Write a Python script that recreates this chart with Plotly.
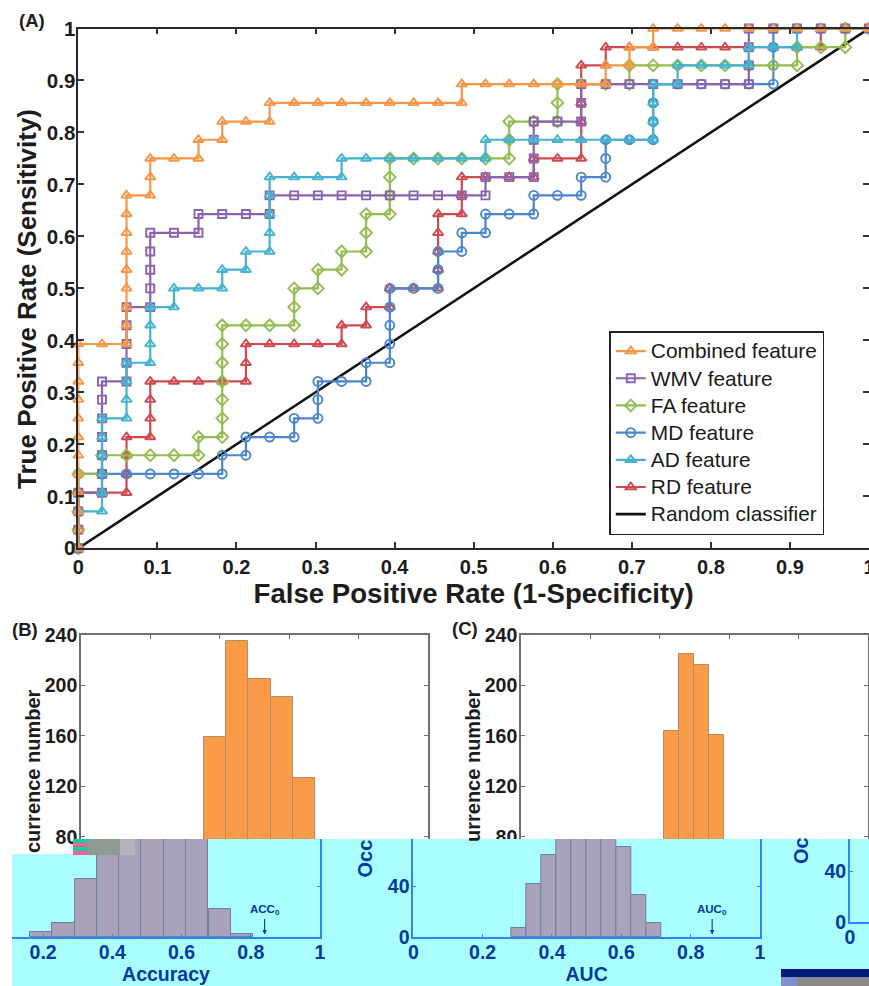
import plotly.graph_objects as go

W, H = 869, 986

# ---------- Panel A data (false positive rate, true positive rate) ----------
combined = [(0,0),(0,.036),(0,.071),(0,.107),(0,.143),(0,.179),(0,.214),(0,.25),(0,.286),(0,.321),(0,.357),(0,.393),
            (.03,.393),(.061,.393),(.061,.429),(.061,.464),(.061,.5),(.061,.536),(.061,.571),(.061,.607),(.061,.643),(.061,.679),
            (.091,.679),(.091,.714),(.091,.75),(.121,.75),(.152,.75),(.152,.786),(.182,.786),(.182,.821),(.212,.821),(.242,.821),(.242,.857),
            (.273,.857),(.303,.857),(.333,.857),(.364,.857),(.394,.857),(.424,.857),(.455,.857),(.485,.857),(.485,.893),
            (.515,.893),(.545,.893),(.576,.893),(.606,.893),(.636,.893),(.667,.893),(.667,.929),(.697,.929),(.697,.964),(.727,.964),(.727,1),
            (.758,1),(.788,1),(.818,1),(.848,1),(.879,1),(.909,1),(.939,1),(.97,1),(1,1)]
wmv = [(0,0),(0,.036),(0,.071),(0,.107),(.03,.107),(.03,.143),(.03,.179),(.03,.214),(.03,.25),(.03,.286),(.03,.321),
       (.061,.321),(.061,.357),(.061,.393),(.061,.429),(.061,.464),(.091,.464),(.091,.5),(.091,.536),(.091,.571),(.091,.607),
       (.121,.607),(.152,.607),(.152,.643),(.182,.643),(.212,.643),(.242,.643),(.242,.679),(.273,.679),(.303,.679),(.333,.679),(.364,.679),
       (.394,.679),(.424,.679),(.455,.679),(.485,.679),(.515,.679),(.515,.714),(.545,.714),(.576,.714),(.576,.75),(.576,.786),(.576,.821),
       (.606,.821),(.636,.821),(.636,.857),(.636,.893),(.667,.893),(.697,.893),(.727,.893),(.758,.893),(.788,.893),(.818,.893),(.848,.893),
       (.848,.929),(.848,.964),(.848,1),(.879,1),(.909,1),(.939,1),(.97,1),(1,1)]
fa = [(0,0),(0,.036),(0,.071),(0,.107),(0,.143),(.03,.143),(.03,.179),(.061,.179),(.091,.179),(.121,.179),(.152,.179),(.152,.214),(.182,.214),
      (.182,.25),(.182,.286),(.182,.321),(.182,.357),(.182,.393),(.182,.429),(.212,.429),(.242,.429),(.273,.429),(.273,.464),(.273,.5),
      (.303,.5),(.303,.536),(.333,.536),(.333,.571),(.364,.571),(.364,.607),(.364,.643),(.394,.643),(.394,.679),(.394,.714),(.394,.75),
      (.424,.75),(.455,.75),(.485,.75),(.515,.75),(.545,.75),(.545,.786),(.545,.821),(.576,.821),(.606,.821),(.606,.857),(.606,.893),
      (.636,.893),(.667,.893),(.697,.893),(.697,.929),(.727,.929),(.758,.929),(.788,.929),(.818,.929),(.848,.929),(.879,.929),(.909,.929),
      (.909,.964),(.939,.964),(.97,.964),(.97,1),(1,1)]
md = [(0,0),(0,.036),(0,.071),(0,.107),(0,.143),(.03,.143),(.061,.143),(.091,.143),(.121,.143),(.152,.143),(.182,.143),(.182,.179),(.212,.179),
      (.212,.214),(.242,.214),(.273,.214),(.273,.25),(.303,.25),(.303,.286),(.303,.321),(.333,.321),(.364,.321),(.364,.357),(.394,.357),
      (.394,.393),(.394,.429),(.394,.464),(.394,.5),(.424,.5),(.455,.5),(.455,.536),(.455,.571),(.485,.571),(.485,.607),(.515,.607),(.515,.643),
      (.545,.643),(.576,.643),(.576,.679),(.606,.679),(.636,.679),(.636,.714),(.667,.714),(.667,.75),(.667,.786),(.697,.786),(.727,.786),
      (.727,.821),(.727,.857),(.727,.893),(.758,.893),(.788,.893),(.818,.893),(.848,.893),(.879,.893),(.879,.929),(.879,.964),(.879,1),
      (.909,1),(.939,1),(.97,1),(1,1)]
ad = [(0,0),(0,.036),(0,.071),(.03,.071),(.03,.107),(.03,.143),(.03,.179),(.03,.214),(.03,.25),(.061,.25),(.061,.286),(.061,.321),(.061,.357),
      (.091,.357),(.091,.393),(.091,.429),(.091,.464),(.121,.464),(.121,.5),(.152,.5),(.182,.5),(.182,.536),(.212,.536),(.212,.571),(.242,.571),
      (.242,.607),(.242,.643),(.242,.679),(.242,.714),(.273,.714),(.303,.714),(.333,.714),(.333,.75),(.364,.75),(.394,.75),(.424,.75),(.455,.75),
      (.485,.75),(.515,.75),(.515,.786),(.545,.786),(.576,.786),(.606,.786),(.636,.786),(.667,.786),(.697,.786),(.727,.786),(.727,.821),(.727,.857),
      (.727,.893),(.758,.893),(.758,.929),(.788,.929),(.818,.929),(.848,.929),(.848,.964),(.879,.964),(.909,.964),(.909,1),(.939,1),(.97,1),(1,1)]
rd = [(0,0),(0,.036),(0,.071),(0,.107),(.03,.107),(.061,.107),(.061,.143),(.061,.179),(.061,.214),(.091,.214),(.091,.25),(.091,.286),(.091,.321),
      (.121,.321),(.152,.321),(.182,.321),(.212,.321),(.212,.357),(.212,.393),(.242,.393),(.273,.393),(.303,.393),(.333,.393),(.333,.429),(.364,.429),
      (.364,.464),(.394,.464),(.394,.5),(.424,.5),(.455,.5),(.455,.536),(.455,.571),(.455,.607),(.455,.643),(.485,.643),(.485,.679),(.485,.714),
      (.515,.714),(.545,.714),(.576,.714),(.576,.75),(.606,.75),(.636,.75),(.636,.786),(.636,.821),(.636,.857),(.636,.893),(.636,.929),(.667,.929),
      (.667,.964),(.697,.964),(.727,.964),(.758,.964),(.788,.964),(.818,.964),(.848,.964),(.879,.964),(.909,.964),(.939,.964),(.939,1),(.97,1),(1,1)]
random_x = [0, 1]
random_y = [0, 1]

# ---------- Panels B and C histograms ----------
acc_real_x = [.386, .45, .514, .579, .643]
acc_real_n = [159, 235, 205, 191, 127]
auc_real_x = [.434, .477, .52, .563]
auc_real_n = [164, 225, 216, 161]
acc_null_x = [.194, .259, .323, .388, .452, .516, .581, .645, .71, .774]
acc_null_n = [4, 11, 46, 104, 150, 180, 150, 110, 22, 2]
auc_null_x = [.305, .348, .391, .434, .477, .52, .563, .607, .65, .693]
auc_null_n = [7, 42, 65, 90, 110, 110, 90, 71, 33, 11]

FONT = "Liberation Sans"
INK = "#1c1c1c"
NAVY = "#003a9e"
LINE_BLUE = "#2b87ee"
BAND = "#abfeff"

def dom_x(a, b): return [a / W, b / W]
def dom_y(top, bottom): return [1 - bottom / H, 1 - top / H]
def tf(size, color=INK): return dict(family=FONT, size=size, color=color, weight="bold")
def legend_name(text): return f"<span style='font-size:20.9px'>{text}</span>"

fig = go.Figure()

fig.add_trace(go.Scatter(x=random_x, y=random_y, mode="lines", name=legend_name("Random classifier"), legendrank=7,
                         line=dict(color="#111111", width=2.6), cliponaxis=False))

styles = [
    (rd, "RD feature", "#cf4a50", "triangle-up-open", 6, 9),
    (md, "MD feature", "#4a86cb", "circle-open", 4, 9),
    (fa, "FA feature", "#92bd4f", "diamond-open", 3, 9),
    (wmv, "WMV feature", "#8a63ae", "square-open", 2, 8),
    (ad, "AD feature", "#44b3ce", "triangle-up-open", 5, 9),
    (combined, "Combined feature", "#f79646", "triangle-up-open", 1, 9),
]
for pts, name, col, sym, rank, size in styles:
    fig.add_trace(go.Scatter(x=[p[0] for p in pts], y=[p[1] for p in pts], mode="lines+markers", name=legend_name(name),
                             legendrank=rank, cliponaxis=False, line=dict(color=col, width=2.2),
                             marker=dict(symbol=sym, size=size, color=col, line=dict(color=col, width=1.9))))

# band behind the lower (shifted) part of the picture
fig.add_trace(go.Scatter(x=[12, 135, 135, 869, 869, 12, 12], y=[854, 854, 839, 839, 986, 986, 854], mode="lines",
                         fill="toself", fillcolor=BAND, line=dict(width=0), showlegend=False, hoverinfo="skip",
                         xaxis="x4", yaxis="y4"))

ORANGE_BAR = dict(color="#f99b48", line=dict(color="#b98a5c", width=1))
GREY_BAR = dict(color="#a9a2b8", line=dict(color="#6d80aa", width=1))
fig.add_trace(go.Bar(x=acc_real_x, y=acc_real_n, width=.0643, marker=ORANGE_BAR, showlegend=False, xaxis="x2", yaxis="y2"))
fig.add_trace(go.Bar(x=auc_real_x, y=auc_real_n, width=.0432, marker=ORANGE_BAR, showlegend=False, xaxis="x3", yaxis="y3"))
fig.add_trace(go.Bar(x=acc_null_x, y=acc_null_n, width=.0643, marker=GREY_BAR, showlegend=False, xaxis="x5", yaxis="y5"))
fig.add_trace(go.Bar(x=auc_null_x, y=auc_null_n, width=.0432, marker=GREY_BAR, showlegend=False, xaxis="x6", yaxis="y6"))
fig.add_trace(go.Scatter(x=[0], y=[0], mode="markers", marker=dict(opacity=0), showlegend=False, hoverinfo="skip", xaxis="x7", yaxis="y7"))

main_ticks = [0, .1, .2, .3, .4, .5, .6, .7, .8, .9, 1]
main_labels = ["0", "0.1", "0.2", "0.3", "0.4", "0.5", "0.6", "0.7", "0.8", "0.9", "1"]
main_axis = dict(range=[0, 1], tickmode="array", tickvals=main_ticks, ticktext=main_labels, ticks="inside", ticklen=6, tickwidth=1.6,
                 tickcolor="#333333", showline=True, linecolor="#2a2a2a", linewidth=1.8, mirror="ticks", showgrid=False, zeroline=False,
                 ticklabeloverflow="allow")
grey_line = dict(showline=True, linecolor="#6f6f6f", linewidth=1.6, tickcolor="#6f6f6f", ticks="inside", ticklen=4, tickwidth=1.2,
                 showgrid=False, zeroline=False)
blue_line = dict(showline=True, linecolor=LINE_BLUE, linewidth=1.8, tickcolor=LINE_BLUE, ticks="inside", ticklen=3, tickwidth=1.2,
                 showgrid=False, zeroline=False)
hist_ticks = [.2, .4, .6, .8]
lower_xticks = [.2, .4, .6, .8, 1]
upper_y = [80, 120, 160, 200, 240]

layout = dict(
    width=W, height=H, margin=dict(l=0, r=0, t=0, b=0, autoexpand=False), paper_bgcolor="white", plot_bgcolor="rgba(0,0,0,0)", showlegend=True, bargap=0,
    font=dict(family=FONT, color=INK),
    legend=dict(x=609.3 / W, y=1 - 331 / H, xanchor="left", yanchor="top", bgcolor="white", bordercolor="#222222", borderwidth=1.5,
                font=dict(family=FONT, size=18.6, color="#1a1a1a"), traceorder="normal", entrywidth=197, entrywidthmode="pixels"),
    xaxis=dict(main_axis, domain=dom_x(78.3, 869), tickfont=tf(20), title=dict(text="False Positive Rate (1-Specificity)", font=tf(27.6), standoff=6)),
    yaxis=dict(main_axis, domain=dom_y(28.5, 548.3), tickfont=tf(20.5), ticklabelstandoff=-3),
    xaxis2=dict(grey_line, domain=dom_x(81, 428), range=[0, 1], anchor="y2", side="top", tickvals=hist_ticks, showticklabels=False),
    yaxis2=dict(grey_line, domain=dom_y(635, 839), range=[78.4, 240], anchor="x2", tickvals=upper_y, mirror="ticks", tickfont=tf(19.5), ticklabelstandoff=-2),
    xaxis3=dict(grey_line, domain=dom_x(521, 868), range=[0, 1], anchor="y3", side="top", tickvals=hist_ticks, showticklabels=False),
    yaxis3=dict(grey_line, domain=dom_y(635, 839), range=[78.4, 240], anchor="x3", tickvals=upper_y, mirror="ticks", tickfont=tf(19.5), ticklabelstandoff=-2),
    xaxis4=dict(domain=dom_x(12, 869), range=[12, 869], anchor="y4", visible=False),
    yaxis4=dict(domain=dom_y(839, 986), range=[986, 839], anchor="x4", visible=False),
    xaxis5=dict(blue_line, domain=dom_x(12, 320), range=[.11, 1], anchor="y5", tickvals=lower_xticks, ticktext=["0.2", "0.4", "0.6", "0.8", "1"],
                tickfont=tf(19.5, NAVY), ticklabelstandoff=-3, title=dict(text="Accuracy", font=tf(19.5, NAVY), standoff=4)),
    yaxis5=dict(blue_line, domain=dom_y(839, 937), range=[0, 77.6], anchor="x5", side="right", tickvals=[40], showticklabels=False),
    xaxis6=dict(blue_line, domain=dom_x(413.3, 760), range=[0, 1], anchor="y6", tickvals=[0, .2, .4, .6, .8, 1], ticktext=["0", "0.2", "0.4", "0.6", "0.8", "1"],
                tickfont=tf(19.5, NAVY), ticklabelstandoff=-3, title=dict(text="AUC", font=tf(19.5, NAVY), standoff=4)),
    yaxis6=dict(blue_line, domain=dom_y(839, 937), range=[0, 77.6], anchor="x6", tickvals=[0, 40], mirror="ticks", tickfont=tf(19.5, NAVY), ticklabelstandoff=-2),
    xaxis7=dict(blue_line, domain=dom_x(850, 869), range=[0, .0548], anchor="y7", tickvals=[0], ticktext=["0"], tickfont=tf(19.5, NAVY), ticklabelstandoff=-3),
    yaxis7=dict(blue_line, domain=dom_y(839, 922), range=[0, 65.7], anchor="x7", tickvals=[0, 40], tickfont=tf(19.5, NAVY), ticklabelstandoff=-2),
)

def label(text, x, y, size, color=INK, angle=0):
    return dict(text=text, xref="paper", yref="paper", x=x / W, y=1 - y / H, showarrow=False, textangle=angle,
                font=tf(size, color), xanchor="center", yanchor="middle")

annotations = [
    label("True Positive Rate (Sensitivity)", 27, 299, 26, angle=-90),
    label("(A)", 32, 20, 18.5), label("(B)", 25, 629, 18.5), label("(C)", 465, 628, 18.5),
    label("currence number", 33, 771, 20, angle=-90),
    label("urrence number", 473, 766, 20, angle=-90),
    label("Occ", 364.5, 859, 20, NAVY, angle=-90),
    label("Oc", 801, 851, 20, NAVY, angle=-90),
    dict(text="ACC<sub>0</sub>", xref="x5", yref="y5", x=.84, y=2, ax=0, ay=-24, showarrow=True, arrowhead=2, arrowsize=.8, arrowwidth=1.1,
         arrowcolor=NAVY, font=tf(11.5, NAVY)),
    dict(text="AUC<sub>0</sub>", xref="x6", yref="y6", x=.862, y=2, ax=0, ay=-24, showarrow=True, arrowhead=2, arrowsize=.8, arrowwidth=1.1,
         arrowcolor=NAVY, font=tf(11.5, NAVY)),
]

def block(x0, y0, x1, y1, color):
    return dict(type="rect", xref="paper", yref="paper", x0=x0 / W, x1=x1 / W, y0=1 - y0 / H, y1=1 - y1 / H,
                fillcolor=color, line=dict(width=0), layer="above")

shapes = [block(73, 839 + 4 * i, 89, 843 + 4 * i, c) for i, c in enumerate(["#1fc9a0", "#f0648f", "#1fc9a0", "#f0648f"])]
shapes += [block(89, 839, 120, 855, "#8e9a92"), block(120, 839, 135, 855, "#b5b2bb"),
           block(781, 969, 869, 977, "#001a78"), block(781, 977, 869, 986, "#8a8a8a"), block(781, 977, 797, 986, "#7f8fd0")]

fig.update_layout(**layout, annotations=annotations, shapes=shapes)
fig.write_html("out.html", config=dict(displayModeBar=False),
               post_script="document.body.style.margin='0';document.documentElement.style.overflow='hidden';")
